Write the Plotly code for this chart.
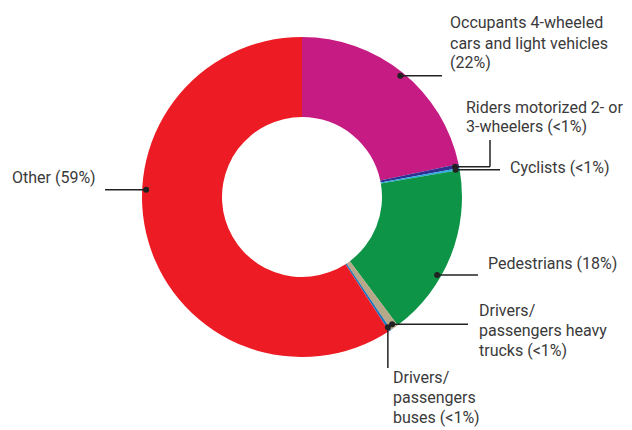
import math
import plotly.graph_objects as go

# ---- data ----
categories = [
    "Occupants 4-wheeled cars and light vehicles",
    "Riders motorized 2- or 3-wheelers",
    "Cyclists",
    "Pedestrians",
    "Drivers/passengers heavy trucks",
    "Drivers/passengers buses",
    "Other",
]
values = [21.7, 0.4, 0.2, 17.5, 0.8, 0.25, 59.15]
label_texts = [
    ["Occupants 4-wheeled", "cars and light vehicles", "(22%)"],
    ["Riders motorized 2- or", "3-wheelers (<1%)"],
    ["Cyclists (<1%)"],
    ["Pedestrians (18%)"],
    ["Drivers/", "passengers heavy", "trucks (<1%)"],
    ["Drivers/", "passengers", "buses (<1%)"],
    ["Other (59%)"],
]
colors = ["#C71B84", "#2E3192", "#29ABE2", "#0D9447", "#B8A88A", "#1C75BC", "#ED1C24"]

# ---- layout ----
OFF = 8  # page body margin
W, H = 632 - OFF, 430 - OFF
CX, CY, R = 302, 197, 160  # in screenshot pixels
FONT = "Liberation Sans Narrow, Roboto, sans-serif"
TXT = "#3a3a3a"
LINE = "#222222"


def px(x, y):
    return (x - OFF) / W, 1 - (y - OFF) / H


x0d, y1d = px(CX - R, CY - R)
x1d, y0d = px(CX + R, CY + R)
fig = go.Figure(go.Pie(
    labels=categories, values=values, hole=0.5, sort=False,
    direction="clockwise", rotation=0,
    marker=dict(colors=colors, line=dict(width=0)),
    textinfo="none", hoverinfo="skip", showlegend=False,
    domain=dict(x=[x0d, x1d], y=[y0d, y1d]),
))

# angular position of each slice (derived from data)
total = sum(values)
starts, spans = [], []
acc = 0.0
for v in values:
    starts.append(acc / total * 360)
    spans.append(v / total * 360)
    acc += v

dot_frac = [0.5, 0.5, 0.5, 0.63, 0.5, 0.5, 0.59]
leaders = [
    dict(path=[("h", 442)], text=(448, 23)),
    dict(path=[("h", 490), ("v", 140)], text=(464, 107)),
    dict(path=[("h", 500)], text=(508, 168)),
    dict(path=[("h", 478)], text=(486, 263)),
    dict(path=[("h", 468)], text=(477, 310)),
    dict(path=[("v", 368)], text=(391, 377)),
    dict(path=[("h", 105)], text=(10, 177)),
]
LH = 20
shapes = []
annotations = []
for i in range(len(values)):
    ang = math.radians(starts[i] + dot_frac[i] * spans[i])
    rr = R * 0.975
    dx, dy = CX + rr * math.sin(ang), CY - rr * math.cos(ang)
    x0, y0 = dx, dy
    for kind, val in leaders[i]["path"]:
        if kind == "h":
            x1, y1 = val, y0
        else:
            x1, y1 = x0, val
        a, b = px(x0, y0)
        c, d = px(x1, y1)
        shapes.append(dict(type="line", xref="paper", yref="paper", x0=a, y0=b, x1=c, y1=d,
                           line=dict(color=LINE, width=1.5)))
        x0, y0 = x1, y1
    a, b = px(dx - 3, dy - 3)
    c, d = px(dx + 3, dy + 3)
    shapes.append(dict(type="circle", xref="paper", yref="paper", x0=a, y0=d, x1=c, y1=b,
                       fillcolor=LINE, line=dict(color=LINE, width=0)))
    tx, ty = leaders[i]["text"]
    for k, line in enumerate(label_texts[i]):
        a, b = px(tx, ty + k * LH)
        annotations.append(dict(text=line, x=a, y=b, xref="paper", yref="paper",
                                xanchor="left", yanchor="middle", showarrow=False,
                                font=dict(family=FONT, size=16, color=TXT)))

fig.update_layout(
    width=W, height=H, margin=dict(l=0, r=0, t=0, b=0),
    paper_bgcolor="white", plot_bgcolor="white",
    shapes=shapes, annotations=annotations,
)
fig.write_html("out.html")
